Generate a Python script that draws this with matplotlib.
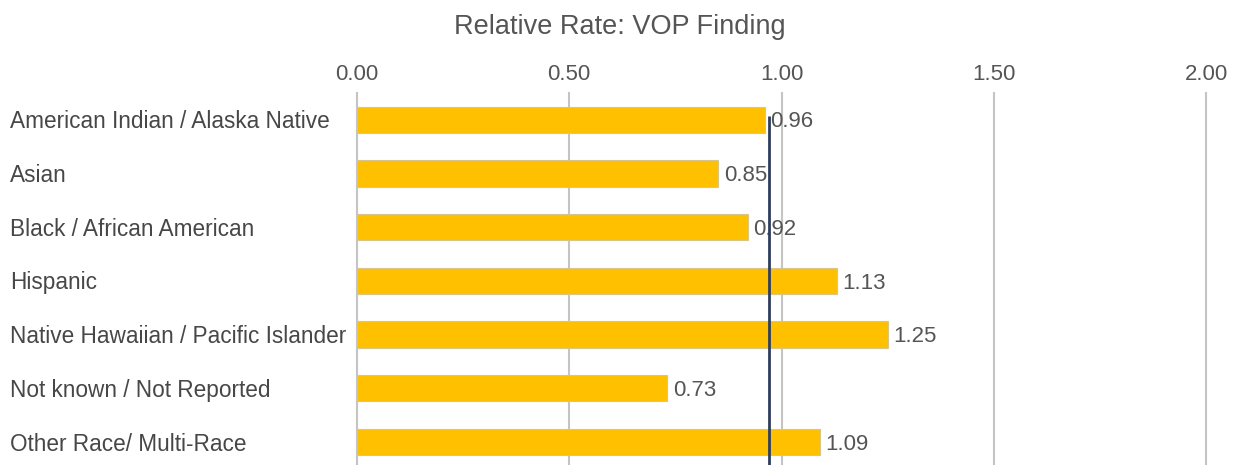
import matplotlib.pyplot as plt

categories = ["American Indian / Alaska Native", "Asian", "Black / African American",
              "Hispanic", "Native Hawaiian / Pacific Islander",
              "Not known / Not Reported", "Other Race/ Multi-Race"]
rates = [0.96, 0.85, 0.92, 1.13, 1.25, 0.73, 1.09]
reference_rate = 0.97
x_ticks = [0.0, 0.5, 1.0, 1.5, 2.0]

plt.rcParams["font.family"] = ["Liberation Sans", "DejaVu Sans"]

W, H = 1234, 465
fig = plt.figure(figsize=(W / 100, H / 100), dpi=100)
ax = fig.add_axes([357 / W, 0, (1206 - 357) / W, 1 - 93 / H])

ypos = list(range(len(categories)))
ax.barh(ypos, rates, height=0.49, color="#FFC000", edgecolor="#D9C58A",
        linewidth=0.8, zorder=2)
for y, v in zip(ypos, rates):
    ax.text(v + 0.014, y + 0.04, f"{v:.2f}", va="center", ha="left",
            fontsize=16, color="#555555", zorder=3)

# reference line across the categories
ax.plot([reference_rate, reference_rate], [ypos[0] - 0.08, 6.45],
        color="#2E3D5C", linewidth=2, zorder=4, solid_capstyle="butt")

ax.set_xlim(0, 2.0)
ax.set_ylim(6.43, -0.5)
ax.set_xticks(x_ticks)
ax.set_xticklabels([f"{t:.2f}" for t in x_ticks])
ax.xaxis.tick_top()
ax.tick_params(axis="x", length=0, pad=6, labelsize=16, labelcolor="#555555")
ax.set_yticks([])
for t in x_ticks:
    ax.axvline(t, color="#C4C4C4", linewidth=1.5, zorder=0, clip_on=False)
for s in ax.spines.values():
    s.set_visible(False)

for y, c in zip(ypos, categories):
    fig.text(10 / W, 1 - (95 + (y + 0.5) * 53.7) / H, c, ha="left", va="center",
             fontsize=16.3, color="#474747")

fig.text(620 / W, 1 - 27 / H, "Relative Rate: VOP Finding", ha="center",
         va="center", fontsize=19.5, color="#555555")

fig.savefig("out.png", dpi=100)
